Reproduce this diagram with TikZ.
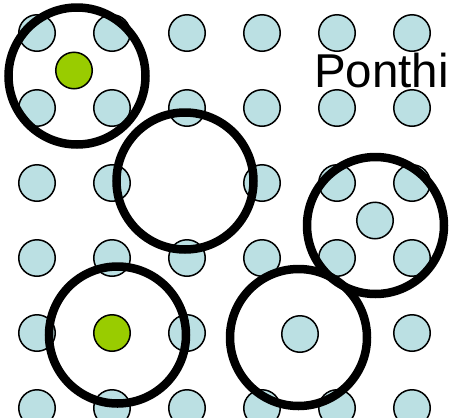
\documentclass[tikz,border=0pt]{standalone}
\usepackage{fontspec}
\setmainfont{Liberation Sans}
\definecolor{aFill}{RGB}{187,224,227}
\definecolor{gFill}{RGB}{153,204,0}
\tikzset{
  atom/.style={circle, draw=black, fill=aFill, line width=1.5pt,
               minimum size=36.5pt, inner sep=0pt},
  dopant/.style={atom, fill=gFill},
  probe/.style={circle, draw=black, line width=8.5pt,
                minimum size=137pt, inner sep=0pt},
  lbl/.style={font=\fontsize{47.5}{52}\selectfont, inner sep=0pt, anchor=base west},
}
\begin{document}
\begin{tikzpicture}[x=1pt, y=-1pt]
  \useasboundingbox (0,0) rectangle (453,418);
  \clip (0,0) rectangle (453,418);

  % ---- lattice of host atoms (gaps where sites are empty) ----
  \foreach \i in {0,...,5}{
    \foreach \j in {0,...,5}{
      \pgfmathtruncatemacro{\gap}{(\i==2 && \j==2) || (\j==4 && (\i==1 || \i==3 || \i==4))}
      \ifnum\gap=0
        \node[atom] (a\i\j) at (37+75*\i, 33+75*\j) {};
      \fi
    }
  }

  % ---- interstitial and substitutional atoms ----
  \node[dopant] (g1) at (74,70.5) {};
  \node[dopant] (g2) at (112,333) {};
  \node[atom] (s1) at (375,220.5) {};
  \node[atom] (s2) at (300,334) {};

  % ---- probe circles ----
  \node[probe] (p1) at (77,76) {};
  \node[probe] (p2) at (185,181) {};
  \node[probe] (p3) at (375.5,225.5) {};
  \node[probe] (p4) at (117.5,335) {};
  \node[probe] (p5) at (298.5,337.5) {};

  % ---- label ----
  \node[lbl] (name) at (314,87.5) {Ponthi};
\end{tikzpicture}
\end{document}
